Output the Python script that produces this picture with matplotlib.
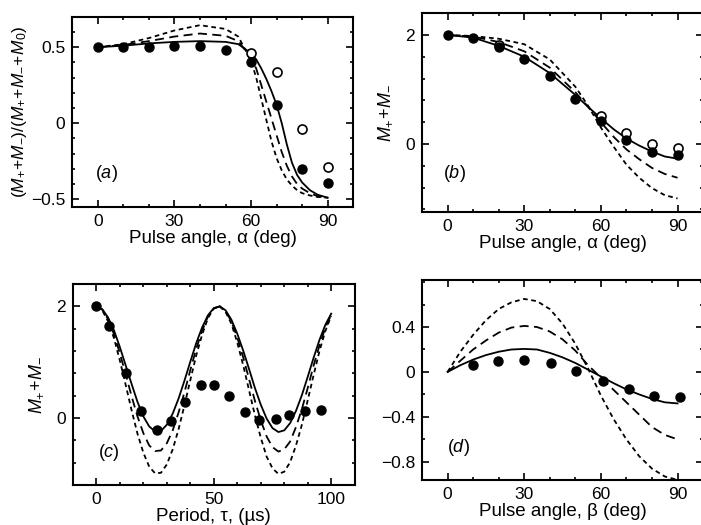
import numpy as np
import matplotlib
matplotlib.use('Agg')
import matplotlib.pyplot as plt
from matplotlib.ticker import MultipleLocator

plt.rcParams['font.family'] = ['Liberation Sans', 'DejaVu Sans']
plt.rcParams['mathtext.fontset'] = 'custom'
plt.rcParams['mathtext.rm'] = 'Liberation Sans'
plt.rcParams['mathtext.it'] = 'Liberation Sans:italic'
plt.rcParams['axes.unicode_minus'] = False

# ---- panel (a) ----
a_dot_x = [0, 10, 20, 30, 40, 50, 60, 70, 80, 90]
a_dot_y = [0.50, 0.50, 0.50, 0.505, 0.505, 0.48, 0.40, 0.12, -0.30, -0.39]
a_open_x = [60, 70, 80, 90]
a_open_y = [0.46, 0.34, -0.035, -0.29]
a_x = [0, 10, 20, 30, 40, 50, 55, 60, 62, 64, 66, 68, 70, 72, 74, 76, 78, 80, 83, 86, 90]
a_solid = [0.50, 0.51, 0.525, 0.535, 0.54, 0.535, 0.52, 0.46, 0.42, 0.36, 0.29, 0.21, 0.12, 0.0,
           -0.14, -0.26, -0.34, -0.39, -0.44, -0.47, -0.49]
a_long = [0.50, 0.515, 0.54, 0.57, 0.59, 0.575, 0.54, 0.43, 0.36, 0.25, 0.14, 0.03, -0.08, -0.19,
          -0.28, -0.35, -0.40, -0.43, -0.46, -0.48, -0.49]
a_short = [0.50, 0.52, 0.56, 0.61, 0.645, 0.62, 0.57, 0.41, 0.30, 0.16, 0.02, -0.12, -0.23, -0.31,
           -0.37, -0.41, -0.44, -0.46, -0.475, -0.485, -0.49]

# ---- panel (b) ----
b_dot_x = [0, 10, 20, 30, 40, 50, 60, 70, 80, 90]
b_dot_y = [2.0, 1.94, 1.77, 1.55, 1.25, 0.82, 0.43, 0.07, -0.14, -0.20]
b_open_x = [20, 60, 70, 80, 90]
b_open_y = [1.82, 0.51, 0.20, 0.0, -0.08]
b_x = [0, 10, 20, 30, 40, 50, 55, 60, 65, 70, 75, 80, 85, 90]
b_solid = [2.0, 1.95, 1.80, 1.60, 1.30, 0.90, 0.68, 0.47, 0.27, 0.10, -0.03, -0.14, -0.23, -0.27]
b_long = [2.0, 1.97, 1.87, 1.70, 1.40, 0.95, 0.68, 0.40, 0.13, -0.10, -0.28, -0.44, -0.55, -0.62]
b_short = [2.0, 1.98, 1.93, 1.83, 1.55, 1.05, 0.70, 0.30, -0.05, -0.38, -0.62, -0.81, -0.94, -1.0]

# ---- panel (c) ----
c_dot_x = [0, 5.5, 12.6, 18.9, 25.6, 31.6, 37.7, 44.4, 50, 56.6, 63.4, 69.4, 76.4, 82, 88.8, 95.6]
c_dot_y = [2.0, 1.65, 0.81, 0.12, -0.22, -0.05, 0.29, 0.60, 0.60, 0.39, 0.11, -0.03, -0.01, 0.06, 0.12, 0.15]
c_x = [0, 2.5, 5, 7.5, 10, 12.5, 15, 17.5, 20, 22.5, 25, 27.5, 30, 32.5, 35, 37.5, 40, 42.5, 45, 47.5,
       50, 52.5, 55, 57.5, 60, 62.5, 65, 67.5, 70, 72.5, 75, 77.5, 80, 82.5, 85, 87.5, 90, 92.5, 95, 97.5, 100]
c_solid = [2.0, 1.95, 1.80, 1.57, 1.27, 0.94, 0.61, 0.29, 0.03, -0.15, -0.24, -0.23, -0.12, 0.08, 0.35,
           0.67, 1.01, 1.34, 1.62, 1.84, 1.97, 2.0, 1.93, 1.76, 1.51, 1.21, 0.88, 0.54, 0.24, -0.01,
           -0.18, -0.25, -0.22, -0.09, 0.13, 0.41, 0.74, 1.08, 1.40, 1.67, 1.87]
c_long = [2.0, 1.94, 1.77, 1.50, 1.16, 0.78, 0.39, 0.03, -0.27, -0.49, -0.59, -0.58, -0.45, -0.22, 0.10,
          0.46, 0.86, 1.24, 1.56, 1.82, 1.96, 2.0, 1.92, 1.73, 1.44, 1.09, 0.70, 0.31, -0.04, -0.33,
          -0.52, -0.60, -0.56, -0.42, -0.16, 0.16, 0.54, 0.94, 1.30, 1.62, 1.85]
c_short = [2.0, 1.93, 1.73, 1.43, 1.03, 0.59, 0.14, -0.28, -0.62, -0.87, -0.99, -0.98, -0.83, -0.56, -0.20,
           0.23, 0.68, 1.12, 1.49, 1.79, 1.96, 2.0, 1.90, 1.69, 1.35, 0.95, 0.50, 0.05, -0.35, -0.69,
           -0.90, -1.0, -0.96, -0.79, -0.49, -0.12, 0.32, 0.77, 1.20, 1.56, 1.83]

# ---- panel (d) ----
d_dot_x = [9.8, 19.8, 29.9, 40.4, 50.2, 60.9, 70.9, 80.6, 90.8]
d_dot_y = [0.06, 0.095, 0.11, 0.077, 0.01, -0.08, -0.155, -0.215, -0.22]
d_x = [0, 5, 10, 15, 20, 25, 30, 35, 40, 45, 50, 55, 60, 65, 70, 75, 80, 85, 90]
d_solid = [0.0, 0.06, 0.11, 0.15, 0.18, 0.20, 0.205, 0.20, 0.17, 0.13, 0.08, 0.02, -0.04, -0.10,
           -0.155, -0.20, -0.24, -0.27, -0.28]
d_long = [0.0, 0.10, 0.20, 0.28, 0.35, 0.395, 0.41, 0.40, 0.36, 0.29, 0.19, 0.06, -0.05, -0.16,
          -0.27, -0.38, -0.49, -0.56, -0.60]
d_short = [0.0, 0.18, 0.33, 0.46, 0.56, 0.62, 0.65, 0.63, 0.56, 0.43, 0.25, 0.03, -0.21, -0.42,
           -0.60, -0.75, -0.86, -0.93, -0.96]

fig = plt.figure(figsize=(7.01, 5.25), dpi=100)
ax_a = fig.add_axes([0.103, 0.606, 0.401, 0.362])
ax_b = fig.add_axes([0.602, 0.596, 0.401, 0.379])
ax_c = fig.add_axes([0.104, 0.076, 0.402, 0.383])
ax_d = fig.add_axes([0.602, 0.086, 0.401, 0.381])

LONG = (0, (5, 3))
SHORT = (0, (2.6, 2))
lw = 1.3
ms = 6.5
LABEL = 13.5


def curves(ax, x, solid, long_, short):
    ax.plot(x, solid, color='black', lw=lw, ls='-')
    ax.plot(x, long_, color='black', lw=lw, ls=LONG)
    ax.plot(x, short, color='black', lw=lw, ls=SHORT)


def style(ax, xmaj, xmin, ymaj, ymin):
    ax.xaxis.set_major_locator(MultipleLocator(xmaj))
    ax.xaxis.set_minor_locator(MultipleLocator(xmin))
    ax.yaxis.set_major_locator(MultipleLocator(ymaj))
    ax.yaxis.set_minor_locator(MultipleLocator(ymin))
    ax.tick_params(which='both', direction='in', top=True, right=True, labelsize=12.5, width=1.2)
    ax.tick_params(which='major', length=5, pad=5)
    ax.tick_params(which='minor', length=2.5)
    for s in ax.spines.values():
        s.set_linewidth(1.5)


# (a)
curves(ax_a, a_x, a_solid, a_long, a_short)
ax_a.plot(a_open_x, a_open_y, 'o', ms=ms, mfc='white', mec='black', mew=1.2)
ax_a.plot(a_dot_x, a_dot_y, 'o', ms=ms, color='black')
ax_a.set_xlim(-10, 100)
ax_a.set_ylim(-0.55, 0.7)
style(ax_a, 30, 10, 0.5, 0.1)
ax_a.set_yticks([-0.5, 0, 0.5])
ax_a.set_yticklabels(['\u22120.5', '0', '0.5'])
ax_a.set_xlabel('Pulse angle, \u03b1 (deg)', fontsize=LABEL, labelpad=1)
ax_a.set_ylabel(r'$(M_{+}\!+\!M_{-})/(M_{+}\!+\!M_{-}\!+\!M_{0})$', fontsize=12.5, labelpad=1)
ax_a.text(0.08, 0.15, r'($a$)', transform=ax_a.transAxes, fontsize=13)

# (b)
curves(ax_b, b_x, b_solid, b_long, b_short)
ax_b.plot(b_open_x, b_open_y, 'o', ms=ms, mfc='white', mec='black', mew=1.2)
ax_b.plot(b_dot_x, b_dot_y, 'o', ms=ms, color='black')
ax_b.set_xlim(-10, 100)
ax_b.set_ylim(-1.25, 2.4)
style(ax_b, 30, 10, 2, 0.4)
ax_b.set_xlabel('Pulse angle, \u03b1 (deg)', fontsize=LABEL, labelpad=1)
ax_b.set_ylabel(r'$M_{+}\!+\!M_{-}$', fontsize=13, labelpad=8)
ax_b.text(0.075, 0.17, r'($b$)', transform=ax_b.transAxes, fontsize=13)

# (c)
curves(ax_c, c_x, c_solid, c_long, c_short)
ax_c.plot(c_dot_x, c_dot_y, 'o', ms=ms, color='black')
ax_c.set_xlim(-10, 110)
ax_c.set_ylim(-1.2, 2.4)
style(ax_c, 50, 10, 2, 0.4)
ax_c.set_xlabel('Period, \u03c4, (\u00b5s)', fontsize=LABEL, labelpad=1)
ax_c.set_ylabel(r'$M_{+}\!+\!M_{-}$', fontsize=13, labelpad=8)
ax_c.text(0.09, 0.14, r'($c$)', transform=ax_c.transAxes, fontsize=13)

# (d)
curves(ax_d, d_x, d_solid, d_long, d_short)
ax_d.plot(d_dot_x, d_dot_y, 'o', ms=ms, color='black')
ax_d.set_xlim(-10, 100)
ax_d.set_ylim(-0.96, 0.82)
style(ax_d, 30, 10, 0.4, 0.2)
ax_d.set_yticks([-0.8, -0.4, 0, 0.4])
ax_d.set_yticklabels(['\u22120.8', '\u22120.4', '0', '0.4'])
ax_d.set_xlabel('Pulse angle, \u03b2 (deg)', fontsize=LABEL, labelpad=1)
ax_d.text(0.09, 0.14, r'($d$)', transform=ax_d.transAxes, fontsize=13)

fig.savefig('out.png', dpi=100)
